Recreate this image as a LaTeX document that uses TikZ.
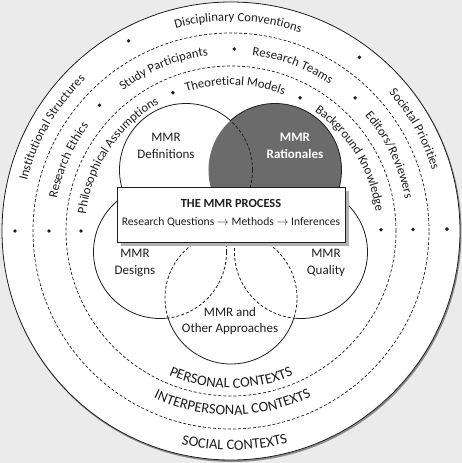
\documentclass[tikz,border=0pt]{standalone}
\usepackage{fontspec}
\setmainfont{Carlito}
\usetikzlibrary{decorations.text,shadows}
\definecolor{bgc}{HTML}{EBEBEB}
\definecolor{darkfill}{HTML}{6B6B6B}
\definecolor{ink}{HTML}{1E1E1E}
\newcommand\ringfont{\fontsize{12.7}{15}\selectfont}
\newcommand\capsring{\fontsize{14.5}{17}\selectfont}
% radius, centre angle, half span, text  (text on upper half, clockwise)
\newcommand\arctop[4]{\path[decorate,decoration={text along path,text align=center,text color=ink,text={|\ringfont|#4}}] (#2+#3:#1) arc[start angle=#2+#3,end angle=#2-#3,radius=#1];}
% text on lower half, counter-clockwise
\newcommand\arcbot[4]{\path[decorate,decoration={text along path,text align=center,text color=ink,text={|\capsring|#4}}] (#2-#3:#1) arc[start angle=#2-#3,end angle=#2+#3,radius=#1];}
\begin{document}
\begin{tikzpicture}[x=1pt,y=1pt,
  ringdash/.style={draw=ink,line width=0.7pt,dash pattern=on 3pt off 2pt},
  vsolid/.style={draw=ink,line width=0.8pt},
  vdash/.style={draw=ink,line width=0.8pt,dash pattern=on 3pt off 2pt},
  dotmark/.style={fill=ink},
  lab/.style={align=center,font=\fontsize{13}{16.5}\selectfont,text=ink,inner sep=0pt},
  processbox/.style={draw=ink,line width=0.8pt,fill=white,minimum width=228pt,minimum height=55pt,inner sep=0pt,
    drop shadow={shadow xshift=4pt,shadow yshift=-4pt,fill=black!30,opacity=1}}]
\useasboundingbox (-231,-232) rectangle (231,231);
\fill[bgc] (-231,-232) rectangle (231,231);
% outer disc
\coordinate (c0) at (0,0);
\fill[black!45] (1,-1.5) circle[radius=229.5];
\filldraw[fill=white,draw=ink,line width=0.8pt] (c0) circle[radius=229];
\draw[ringdash] (c0) circle[radius=198];
\draw[ringdash] (c0) circle[radius=165];
% dots
\foreach \a in {180,118.3,53.5,0.5} \fill[dotmark] (\a:216) circle[radius=1.9];
\foreach \a in {180,136.3,89,47,0.5} \fill[dotmark] (\a:182) circle[radius=1.9];
\foreach \a in {180,112.8,62.6,0.5} \fill[dotmark] (\a:150) circle[radius=1.9];
% ring texts
\arctop{210}{150}{50}{Institutional Structures}
\arctop{210}{88}{50}{Disciplinary Conventions}
\arctop{210}{29}{50}{Societal Priorities}
\arctop{177}{156.5}{50}{Research Ethics}
\arctop{177}{112.5}{50}{Study Participants}
\arctop{177}{69.6}{50}{Research Teams}
\arctop{177}{25.6}{50}{Editors/Reviewers}
\arctop{146}{146.4}{50}{Philosophical Assumptions}
\arctop{146}{88.3}{50}{Theoretical Models}
\arctop{146}{31.3}{50}{Background Knowledge}
\arcbot{219}{271}{50}{SOCIAL CONTEXTS}
\arcbot{184}{270.5}{55}{INTERPERSONAL CONTEXTS}
\arcbot{157}{270}{55}{PERSONAL CONTEXTS}
% Venn circles
\coordinate (cDef) at (-45,61);
\coordinate (cRat) at (44,61);
\coordinate (cDes) at (-71,-21);
\coordinate (cQua) at (70,-21);
\coordinate (cOth) at (0,-67);
\fill[darkfill] (cRat) circle[radius=66.5];
% Definitions
\begin{scope}[even odd rule]
  \clip (-240,-240) rectangle (240,240) (cRat) circle[radius=66.5];
  \draw[vsolid] (cDef) circle[radius=66.5];
\end{scope}
\begin{scope}
  \clip (cRat) circle[radius=66.5];
  \draw[vdash] (cDef) circle[radius=66.5];
\end{scope}
% Rationales
\begin{scope}[even odd rule]
  \clip (-240,-240) rectangle (240,240) (cDef) circle[radius=66.5];
  \draw[vsolid] (cRat) circle[radius=66.5];
\end{scope}
\begin{scope}
\clip (-240,-240) rectangle (240,43);
% Designs
\begin{scope}[even odd rule]
  \clip (-240,-240) rectangle (240,240) (cOth) circle[radius=66];
  \draw[vsolid] (cDes) circle[radius=66.5];
\end{scope}
\begin{scope}
  \clip (cOth) circle[radius=66];
  \draw[vdash] (cDes) circle[radius=66.5];
\end{scope}
% Quality
\begin{scope}[even odd rule]
  \clip (-240,-240) rectangle (240,240) (cOth) circle[radius=66];
  \draw[vsolid] (cQua) circle[radius=66.5];
\end{scope}
\begin{scope}
  \clip (cOth) circle[radius=66];
  \draw[vdash] (cQua) circle[radius=66.5];
\end{scope}
\end{scope}
% Other approaches
\begin{scope}[even odd rule]
  \clip (-240,-240) rectangle (240,240) (cDes) circle[radius=66.5] (cQua) circle[radius=66.5];
  \draw[vsolid] (cOth) circle[radius=66];
\end{scope}
\begin{scope}
  \clip (cDes) circle[radius=66.5];
  \draw[vdash] (cOth) circle[radius=66];
\end{scope}
\begin{scope}
  \clip (cQua) circle[radius=66.5];
  \draw[vdash] (cOth) circle[radius=66];
\end{scope}
% labels
\node[lab] (lDef) at (-65,85) {MMR\\Definitions};
\node[lab,text=white,font=\fontsize{13}{16.5}\selectfont\bfseries] (lRat) at (64,85) {MMR\\Rationales};
\node[lab] (lDes) at (-96,-32) {MMR\\Designs};
\node[lab] (lQua) at (95,-32) {MMR\\Quality};
\node[lab] (lOth) at (-1,-90) {MMR and\\Other Approaches};
% process box
\node[processbox] (box) at (0,16.5) {};
\node[font=\fontsize{12.4}{14}\selectfont\bfseries,text=ink,inner sep=0pt] (title) at (0,28) {THE MMR PROCESS};
\node[font=\fontsize{11.6}{14}\selectfont,text=ink,inner sep=0pt] (flow) at (0,8.5) {Research Questions $\rightarrow$ Methods $\rightarrow$ Inferences};
\end{tikzpicture}
\end{document}
